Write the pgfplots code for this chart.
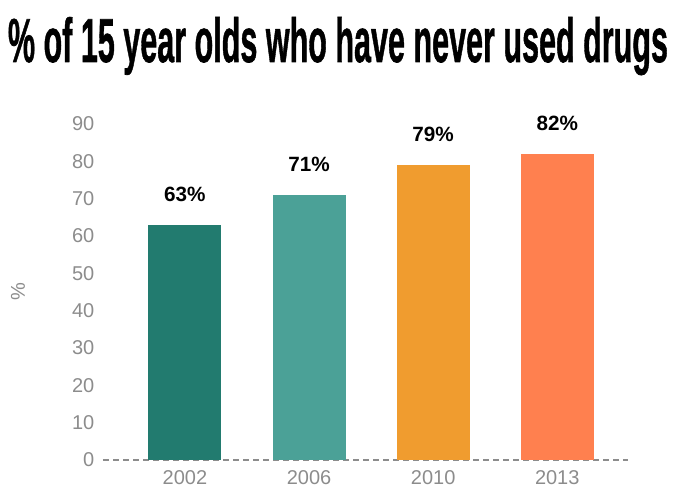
\documentclass[border=0pt]{standalone}
\usepackage{fontspec}
\setmainfont{Liberation Sans}
\newfontfamily\titlefont[FakeBold=1.2]{Liberation Sans}
\usepackage{pgfplots}
\pgfplotsset{compat=1.18}
\definecolor{c1}{RGB}{34,123,111}
\definecolor{c2}{RGB}{75,161,151}
\definecolor{c3}{RGB}{240,156,47}
\definecolor{c4}{RGB}{255,128,79}
\definecolor{tgray}{RGB}{140,140,140}
\begin{document}
\begin{tikzpicture}
\useasboundingbox (0,0) rectangle (507pt,366pt);
\node[anchor=base] at (253.5pt,319.5pt) {\resizebox{495pt}{33.75pt}{\titlefont\bfseries \% of 15 year olds who have never used drugs}};
\begin{axis}[
  at={(77.25pt,21pt)}, anchor=south west,
  scale only axis, width=393.75pt, height=252pt,
  xmin=-0.66, xmax=3.57, ymin=0, ymax=90,
  axis x line=bottom, axis y line=left,
  x axis line style={draw=tgray, line width=1.1pt, dash pattern=on 4.5pt off 3pt, -},
  y axis line style={draw=none},
  major tick length=0pt,
  /pgf/number format/assume math mode=true,
  xtick={0,1,2,3}, xticklabels={2002,2006,2010,2013},
  ytick={0,10,...,90},
  tick label style={font=\fontsize{15}{18}\selectfont, text=tgray},
  yticklabel style={xshift=-3pt},
  xticklabel style={yshift=-4pt},
  ylabel={\%},
  every axis y label/.style={at={(rel axis cs:0,0.5)}, xshift=-63.75pt, rotate=90, anchor=center, font=\fontsize{15}{18}\selectfont, text=tgray},
  ybar, bar width=54.75pt, bar shift=0pt,
  nodes near coords={\pgfmathprintnumber{\pgfplotspointmeta}\%},
  every node near coord/.append style={font=\bfseries\fontsize{15.5}{18}\selectfont, text=black, anchor=center, yshift=23pt},
  clip=false,
]
\addplot[fill=c1, draw=none] coordinates {(0,63)};
\addplot[fill=c2, draw=none] coordinates {(1,71)};
\addplot[fill=c3, draw=none] coordinates {(2,79)};
\addplot[fill=c4, draw=none] coordinates {(3,82)};
\end{axis}
\end{tikzpicture}
\end{document}
